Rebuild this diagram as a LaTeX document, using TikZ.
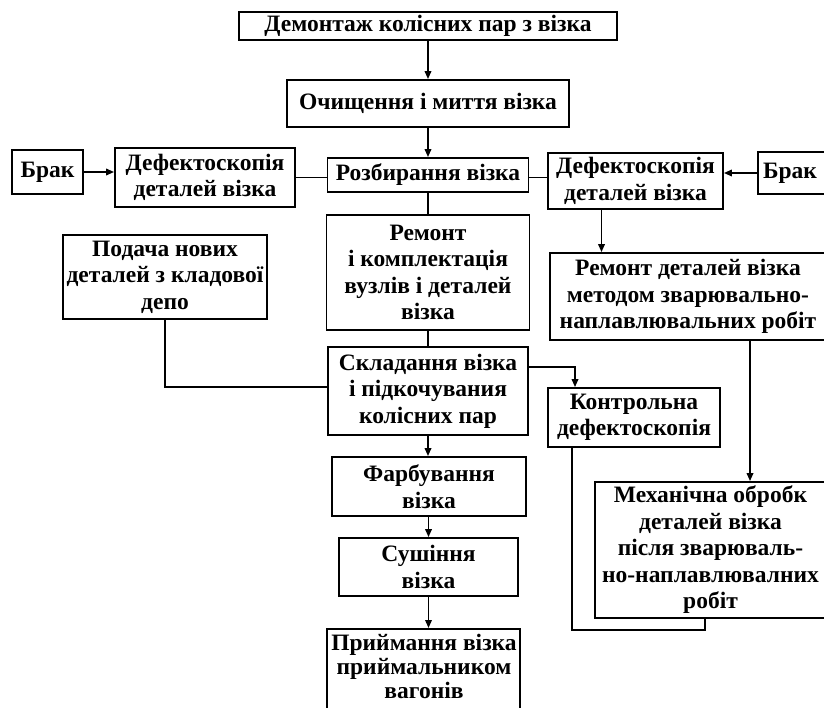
\documentclass[tikz,border=0pt]{standalone}
\usepackage{fontspec}
\setmainfont{Liberation Serif}
\usetikzlibrary{arrows.meta,calc}
\begin{document}
\begin{tikzpicture}[x=1pt,y=-1pt,
  box/.style={draw, line width=1.8pt, align=center, inner sep=0pt,
    font=\fontsize{23.5}{26.5}\selectfont\bfseries},
  txt/.style={align=center, inner sep=0pt, font=\fontsize{23.5}{24}\selectfont\bfseries},
  ln/.style={line width=1.8pt},
  arr/.style={line width=1.8pt, -{Triangle[length=8pt,width=6.5pt]}}]
\path[use as bounding box] (0,0) rectangle (824,708);
\clip (0,0) rectangle (824,708);
\fill[white] (0,0) rectangle (824,708);

% central column
\node[box, minimum width=378pt, minimum height=28pt] (b1) at (428,26) {Демонтаж колісних пар з візка};
\node[box, minimum width=282pt, minimum height=47pt] (b2) at (428,103.5) {Очищення і миття візка};
\node[box, minimum width=201pt, minimum height=34pt] (b3) at (428,175) {Розбирання візка};
\node[box, minimum width=203pt, minimum height=115pt] (rk) at (428,272.5) {Ремонт\\і комплектація\\вузлів і деталей\\візка};
\node[box, minimum width=200pt, minimum height=88pt] (sk) at (428,391) {Складання візка\\і підкочувания\\колісних пар};
\node[box, minimum width=194pt, minimum height=59pt] (far) at (429,486.5) {Фарбування\\візка};
\node[box, minimum width=179pt, minimum height=58pt] (sush) at (428.5,567) {Сушіння\\візка};
\node[box, minimum width=193pt, minimum height=100pt, anchor=north] (pr) at (423.5,628) {};
\node[txt] (prt) at (424,666) {Приймання візка\\приймальником\\вагонів};

% left side
\node[box, minimum width=71pt, minimum height=44pt] (brl) at (47.5,172) {Брак};
\node[box, minimum width=180pt, minimum height=59pt] (dl) at (205,177.5) {Дефектоскопія\\деталей візка};
\node[box, minimum width=204pt, minimum height=84pt] (pod) at (165,277) {Подача нових\\деталей з кладової\\депо};

% right side
\node[box, minimum width=175pt, minimum height=56pt] (dr) at (635.5,181) {Дефектоскопія\\деталей візка};
\node[box, minimum width=82pt, minimum height=42pt] (brr) at (799,173) {Брак\hspace{18pt}};
\node[box, minimum width=276pt, minimum height=87pt] (rd) at (688,296.5) {Ремонт деталей візка\\методом зварювально-\\наплавлювальних робіт};
\node[box, minimum width=172pt, minimum height=59pt] (k) at (634,417.5) {Контрольна\\дефектоскопія};
\node[box, minimum width=231pt, minimum height=136pt] (mech) at (710.5,550) {Механічна обробк\\деталей візка\\після зварюваль-\\но-наплавлювалних\\робіт};

% connectors
\draw[arr] (b1.south) -- (b2.north);
\draw[arr] (b2.south) -- (b3.north);
\draw[ln] (b3.south) -- (rk.north);
\draw[ln] (rk.south) -- (sk.north);
\draw[arr] (sk.south) -- (sk.south |- far.north);
\draw[arr] (far.south -| sush.south) -- (sush.north);
\draw[arr] (sush.south) -- (sush.south |- pr.north);

\draw[arr] (brl.east) -- (brl.east -| dl.west);
\draw[ln] (dl.east) -- (dl.east -| b3.west);
\draw[ln] (b3.east |- dl.east) -- (dr.west |- dl.east);
\draw[arr] (brr.west) -- (brr.west -| dr.east);
\draw[arr] ([xshift=-34pt]dr.south) -- ([xshift=-34pt]dr.south |- rd.north);
\draw[arr] ([xshift=62pt]rd.south) -- ([xshift=62pt]rd.south |- mech.north);

\draw[ln] (pod.south) |- ([yshift=4pt]sk.west);
\draw[arr] ([yshift=24pt]sk.east) -| ([xshift=-59pt]k.north);
\draw[ln] ([xshift=-62pt]k.south) |- ([xshift=-5.5pt,yshift=-11pt]mech.south) -- ([xshift=-5.5pt]mech.south);
\end{tikzpicture}
\end{document}
